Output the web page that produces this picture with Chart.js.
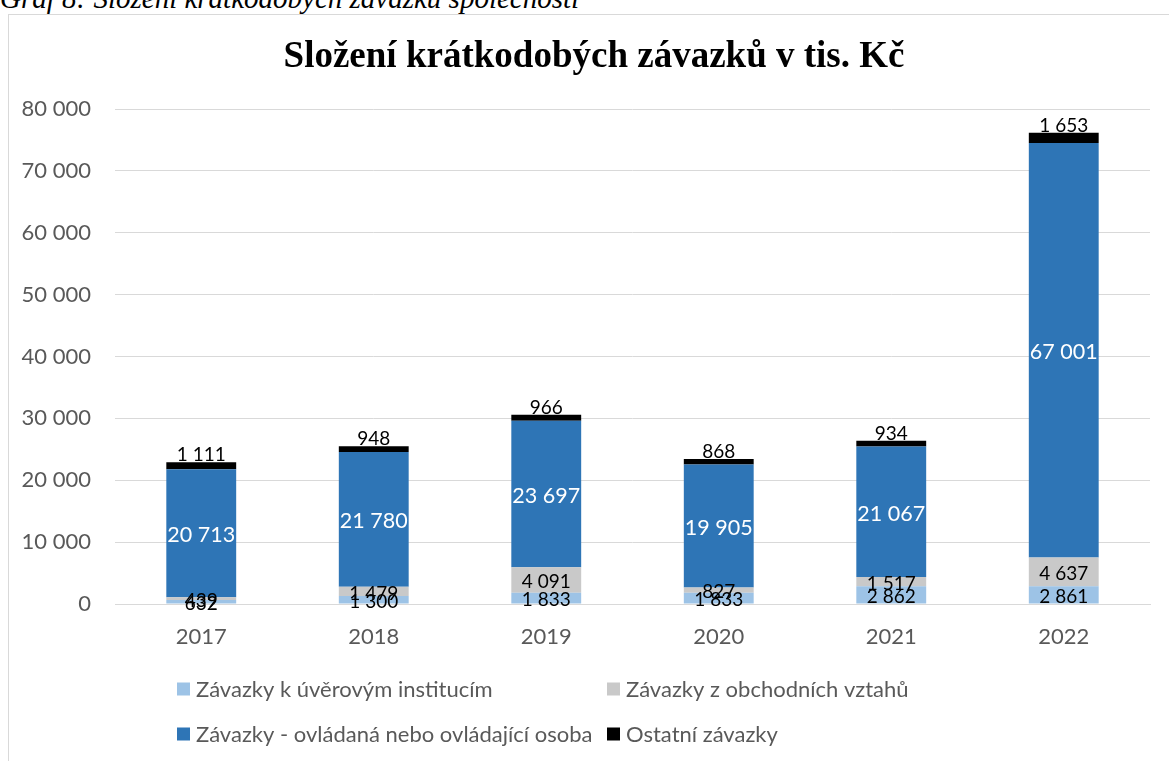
<!DOCTYPE html>
<html>
<head>
<meta charset="utf-8">
<script src="https://cdn.jsdelivr.net/npm/chart.js@4"></script>
<style>
  html, body { margin: 0; padding: 0; background: #fff; overflow: hidden; }
  #wrap { position: relative; width: 1169px; height: 761px; }
  #caption {
    position: absolute; left: 0; top: -16px;
    font: italic 29px "Liberation Serif", serif; line-height: 29px;
    color: #000; white-space: nowrap;
  }
  #frame {
    position: absolute; left: 8px; top: 14px; width: 1200px; height: 800px;
    border-left: 1px solid #d9d9d9; border-top: 1px solid #d9d9d9;
  }
  canvas { position: absolute; left: 0; top: 0; }
</style>
</head>
<body>
<div id="wrap">
  <div id="caption">Graf 8: Složení krátkodobých závazků společnosti</div>
  <div id="frame"></div>
  <canvas id="graf" width="1169" height="761"></canvas>
</div>
<script>
// data
const years = ['2017', '2018', '2019', '2020', '2021', '2022'];
const uverove = [632, 1300, 1833, 1833, 2862, 2861];
const obchodni = [439, 1479, 4091, 827, 1517, 4637];
const ovladana = [20713, 21780, 23697, 19905, 21067, 67001];
const ostatni = [1111, 948, 966, 868, 934, 1653];
const names = [
  'Závazky k úvěrovým institucím',
  'Závazky z obchodních vztahů',
  'Závazky - ovládaná nebo ovládající osoba',
  'Ostatní závazky'
];
const colors = ['#9dc3e6', '#c9c9c9', '#2e75b6', '#000000'];
const chartTitle = 'Složení krátkodobých závazků v tis. Kč';

function fmt(v) {
  return String(v).replace(/\B(?=(\d{3})+(?!\d))/g, ' ');
}

// title sits a bit right of the canvas centre, as in the excel frame
const frameTitle = {
  id: 'frameTitle',
  afterDraw(chart) {
    const ctx = chart.ctx;
    ctx.save();
    ctx.font = 'bold 37px "Liberation Serif"';
    ctx.fillStyle = '#000';
    ctx.textAlign = 'center';
    ctx.textBaseline = 'middle';
    ctx.fillText(chartTitle, 594, 57);
    ctx.restore();
  }
};

// labels in the segments, last series sits on top of the bar
const segLabels = {
  id: 'segLabels',
  afterDatasetsDraw(chart) {
    const ctx = chart.ctx;
    ctx.save();
    ctx.textAlign = 'center';
    chart.data.datasets.forEach((ds, i) => {
      const meta = chart.getDatasetMeta(i);
      meta.data.forEach((bar, j) => {
        const txt = fmt(ds.data[j]);
        if (i === 3) {
          ctx.font = '19px Lato';
          ctx.fillStyle = '#000';
          ctx.textBaseline = 'alphabetic';
          ctx.fillText(txt, bar.x, bar.y - 1);
        } else {
          const mid = (bar.y + bar.base) / 2;
          ctx.font = i === 2 ? '21.5px Lato' : '19px Lato';
          ctx.fillStyle = i === 2 ? '#fff' : '#000';
          ctx.textBaseline = 'middle';
          ctx.fillText(txt, bar.x, mid + 2);
        }
      });
    });
    ctx.restore();
  }
};

// legend in two columns like in excel
const gridLegend = {
  id: 'gridLegend',
  afterDraw(chart) {
    const ctx = chart.ctx;
    const colX = [177, 607];
    const rowY = [689, 734];
    ctx.save();
    ctx.font = '22px Lato';
    ctx.textBaseline = 'middle';
    ctx.textAlign = 'left';
    chart.data.datasets.forEach((ds, i) => {
      const x = colX[i % 2], y = rowY[Math.floor(i / 2)];
      ctx.fillStyle = ds.backgroundColor;
      ctx.fillRect(x, y - 6.5, 13, 13);
      ctx.fillStyle = '#595959';
      ctx.fillText(ds.label, x + 19, y + 1);
    });
    ctx.restore();
  }
};

new Chart(document.getElementById('graf'), {
  type: 'bar',
  data: {
    labels: years,
    datasets: [
      { label: names[0], data: uverove, backgroundColor: colors[0] },
      { label: names[1], data: obchodni, backgroundColor: colors[1] },
      { label: names[2], data: ovladana, backgroundColor: colors[2] },
      { label: names[3], data: ostatni, backgroundColor: colors[3] }
    ]
  },
  plugins: [segLabels, gridLegend, frameTitle],
  options: {
    responsive: false,
    animation: false,
    devicePixelRatio: 1,
    layout: { padding: { left: 0, right: 19, top: 109, bottom: 112 } },
    datasets: {
      bar: { barPercentage: 0.405, categoryPercentage: 1, borderWidth: 0 }
    },
    plugins: {
      legend: { display: false },
      tooltip: { enabled: false },
      title: { display: false }
    },
    scales: {
      x: {
        stacked: true,
        grid: { display: false, drawTicks: false },
        border: { color: '#d9d9d9', width: 1 },
        ticks: { color: '#595959', font: { family: 'Lato', size: 22 }, padding: 20 },
        afterFit(scale) { scale.height = 45; }
      },
      y: {
        stacked: true,
        min: 0,
        max: 80000,
        grid: { color: '#d9d9d9', drawTicks: false },
        border: { display: false },
        ticks: {
          stepSize: 10000,
          color: '#595959',
          font: { family: 'Lato', size: 22 },
          padding: 24,
          callback: (v) => fmt(v)
        },
        afterFit(scale) { scale.width = 115; }
      }
    }
  }
});
</script>
</body>
</html>
